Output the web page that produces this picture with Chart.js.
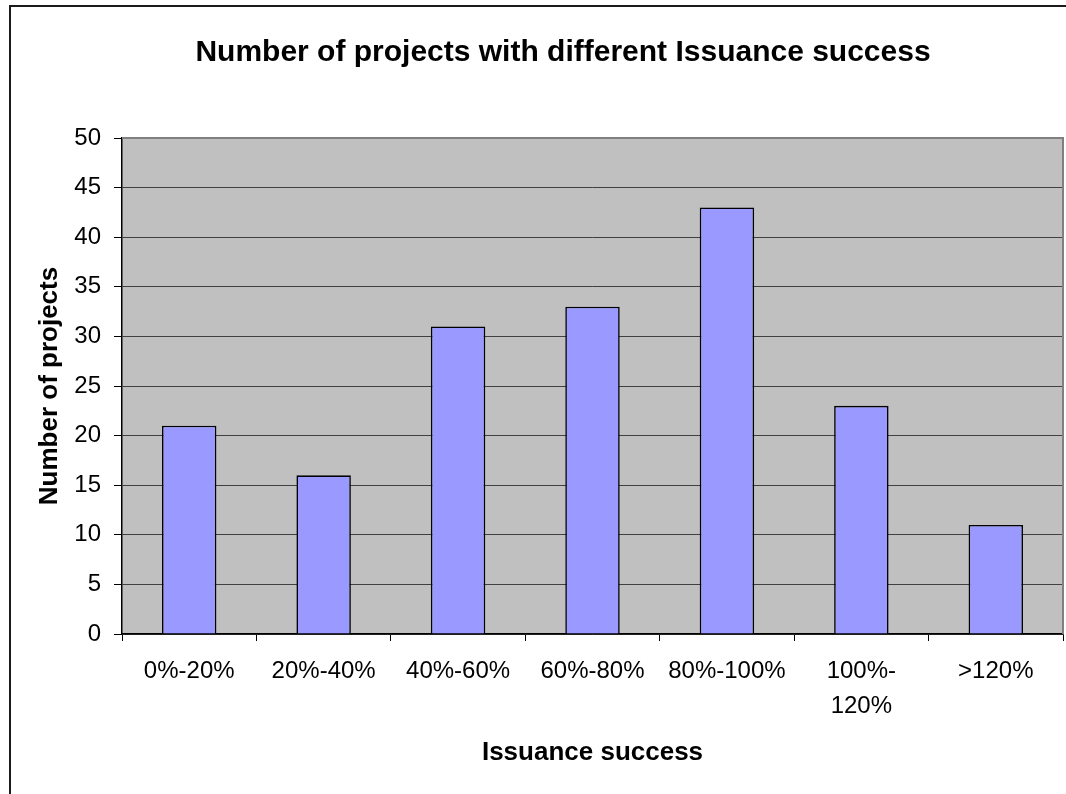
<!DOCTYPE html>
<html>
<head>
<meta charset="utf-8">
<script src="https://cdn.jsdelivr.net/npm/chart.js@4"></script>
<style>
  html, body { margin: 0; padding: 0; background: #ffffff; }
  #wrap { width: 1066px; height: 794px; position: relative; }
</style>
</head>
<body>
<div id="wrap"><canvas id="c" width="1066" height="794"></canvas></div>
<script>
const categories = ["0%-20%", "20%-40%", "40%-60%", "60%-80%", "80%-100%", ["100%-", "120%"], ">120%"];
const projectCounts = [21, 16, 31, 33, 43, 23, 11];
const yTickStep = 5;
const yMax = 50;
const chartTitle = "Number of projects with different Issuance success";
const xTitle = "Issuance success";
const yTitle = "Number of projects";

const FONT = "'Liberation Sans', Arial, sans-serif";

const decor = {
  id: 'decor',
  afterLayout(chart) {
    // the original chart frame is wider than the visible picture; centre the title on that frame
    if (chart.titleBlock) {
      chart.titleBlock.left = 9;
      chart.titleBlock.right = 1117;
    }
  },
  beforeDraw(chart) {
    const {ctx, chartArea: a} = chart;
    ctx.save();
    ctx.fillStyle = '#ffffff';
    ctx.fillRect(0, 0, chart.width, chart.height);
    ctx.fillStyle = '#C0C0C0';
    ctx.fillRect(a.left, a.top, a.right - a.left, a.bottom - a.top);
    ctx.restore();
  },
  beforeDatasetsDraw(chart) {
    const {ctx, chartArea: a} = chart;
    ctx.save();
    ctx.strokeStyle = '#808080';
    ctx.lineWidth = 2;
    ctx.beginPath();
    ctx.moveTo(a.left, a.top);
    ctx.lineTo(a.right, a.top);
    ctx.lineTo(a.right, a.bottom);
    ctx.stroke();
    ctx.restore();
  },
  afterDraw(chart) {
    const {ctx} = chart;
    ctx.save();
    ctx.strokeStyle = '#1a1a1a';
    ctx.lineWidth = 2;
    ctx.beginPath();
    ctx.moveTo(10, chart.height + 2);
    ctx.lineTo(10, 6);
    ctx.lineTo(chart.width + 2, 6);
    ctx.stroke();
    ctx.restore();
  }
};

new Chart(document.getElementById('c'), {
  type: 'bar',
  data: {
    labels: categories,
    datasets: [{
      data: projectCounts,
      backgroundColor: '#9999FF',
      borderColor: '#000000',
      borderWidth: 1.6,
      barPercentage: 0.405,
      categoryPercentage: 1.0
    }]
  },
  options: {
    responsive: false,
    animation: false,
    devicePixelRatio: 1,
    layout: { padding: { left: 0, right: 3, top: 0, bottom: 0 } },
    plugins: {
      legend: { display: false },
      tooltip: { enabled: false },
      title: {
        display: true,
        text: chartTitle,
        color: '#000000',
        font: { family: FONT, size: 30, weight: 'bold', lineHeight: 1.2 },
        padding: { top: 34.5, bottom: 67.5 }
      }
    },
    scales: {
      x: {
        grid: {
          display: true,
          drawOnChartArea: false,
          drawTicks: true,
          tickLength: 7,
          tickColor: '#000000',
          color: '#000000',
          offset: true
        },
        border: { display: true, color: '#000000', width: 1.5 },
        ticks: {
          color: '#000000',
          font: { family: FONT, size: 24, lineHeight: 1.45 },
          padding: 13,
          maxRotation: 0,
          autoSkip: false
        },
        title: {
          display: true,
          text: xTitle,
          color: '#000000',
          font: { family: FONT, size: 26, weight: 'bold', lineHeight: 1.2 },
          padding: { top: 0, bottom: 25.6 }
        },
        afterFit(scale) { scale.height = 160; }
      },
      y: {
        min: 0,
        max: yMax,
        grid: {
          color: (c) => (c.tick && c.tick.value === yMax) ? '#808080' : '#404040',
          lineWidth: 1,
          tickLength: 8,
          tickColor: '#000000',
          drawTicks: true
        },
        border: { display: true, color: '#000000', width: 1.5 },
        ticks: {
          stepSize: yTickStep,
          color: '#000000',
          font: { family: FONT, size: 24, lineHeight: 1.2 },
          padding: 13
        },
        title: {
          display: true,
          text: yTitle,
          color: '#000000',
          font: { family: FONT, size: 26, weight: 'bold', lineHeight: 1.2 },
          padding: { top: 34.4, bottom: 0 }
        },
        afterFit(scale) { scale.width = 122; }
      }
    }
  },
  plugins: [decor]
});
</script>
</body>
</html>
